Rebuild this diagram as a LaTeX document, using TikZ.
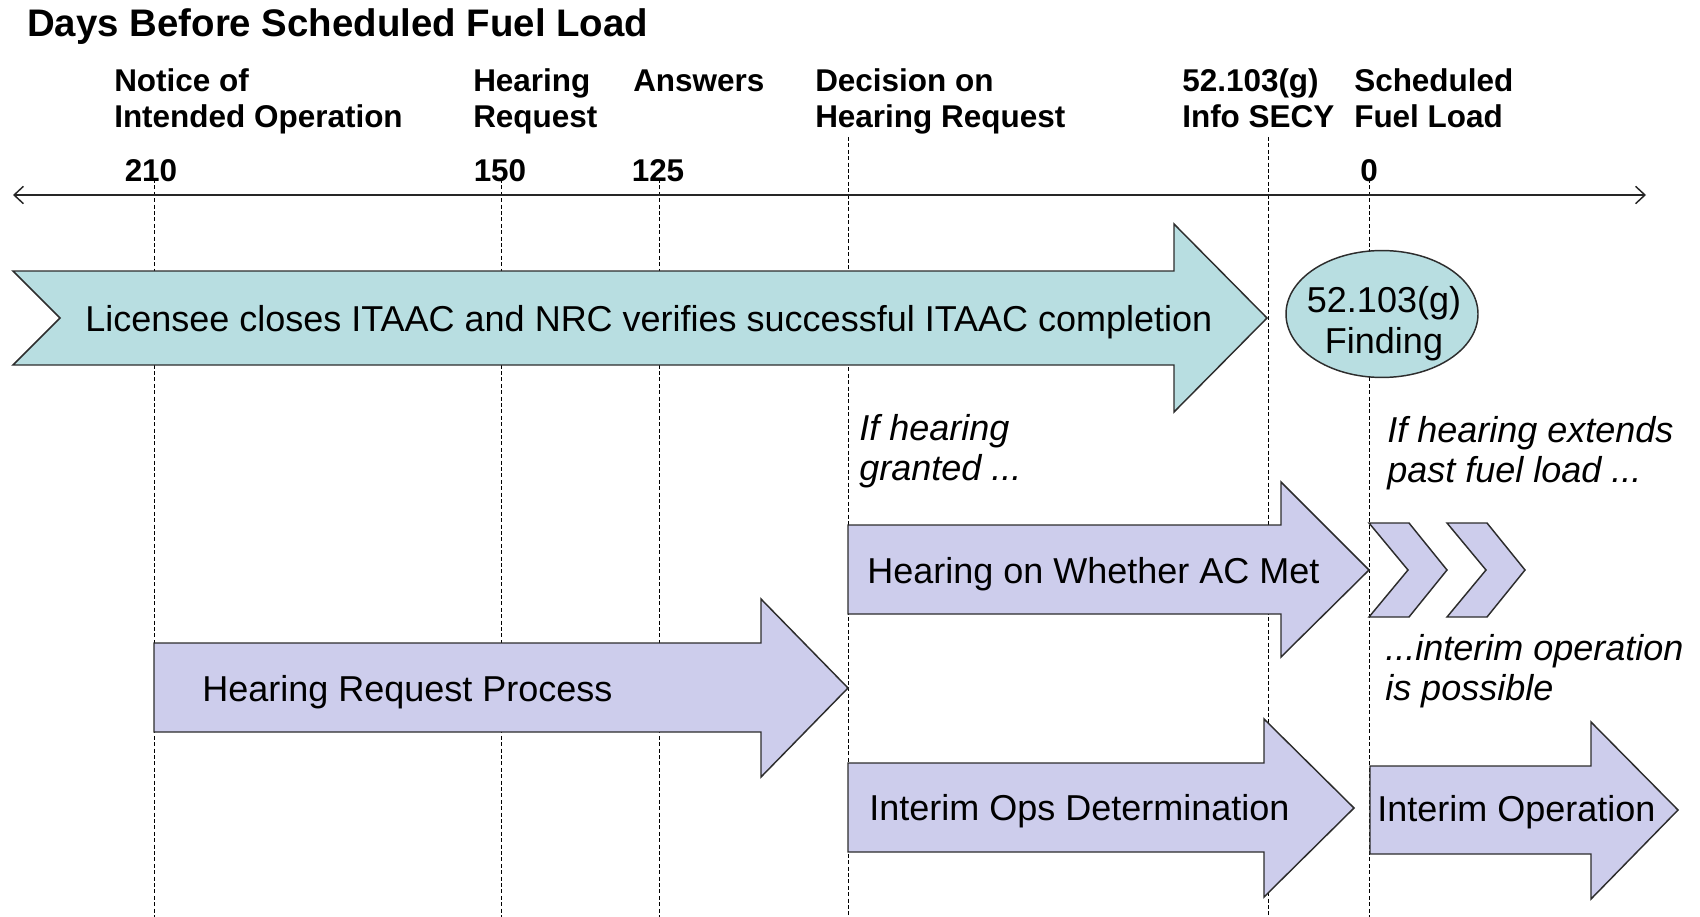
\documentclass[tikz,border=0pt]{standalone}
\usepackage{fontspec}
\setmainfont{Liberation Sans}
\usetikzlibrary{arrows.meta}
\definecolor{tealfill}{RGB}{184,222,225}
\definecolor{lilacfill}{RGB}{205,205,236}
\definecolor{edgegray}{RGB}{45,45,45}
\tikzset{
  guide/.style={draw=black, line width=0.7pt, dash pattern=on 3pt off 1.8pt},
  axisline/.style={draw=black!85, line width=1.1pt, {Straight Barb[length=7pt,width=13pt]}-{Straight Barb[length=7pt,width=13pt]}},
  tealshape/.style={fill=tealfill, draw=edgegray, line width=1.1pt},
  lilacshape/.style={fill=lilacfill, draw=edgegray, line width=1.1pt},
  titletext/.style={anchor=base west, inner sep=0pt, font=\fontsize{28.8}{33}\selectfont\bfseries},
  headlabel/.style={anchor=base west, inner sep=0pt, font=\fontsize{23.6}{27}\selectfont\bfseries},
  daynum/.style={anchor=base, inner sep=0pt, font=\fontsize{23.6}{27}\selectfont\bfseries},
  bartext/.style={anchor=base west, inner sep=0pt, font=\fontsize{27}{31}\selectfont},
  findingtext/.style={anchor=base, inner sep=0pt, font=\fontsize{27}{30.75}\selectfont},
  note/.style={anchor=base west, inner sep=0pt, font=\fontsize{27}{30.5}\selectfont\itshape},
}
\begin{document}
\begin{tikzpicture}[x=0.75pt, y=-0.75pt]
\useasboundingbox (0,0) rectangle (1700,917);

% dashed guide lines
\coordinate (g210t) at (154,179);  \coordinate (g210b) at (154,917);
\coordinate (g150t) at (501,179);  \coordinate (g150b) at (501,917);
\coordinate (g125t) at (659,179);  \coordinate (g125b) at (659,917);
\coordinate (gdect) at (848,137);  \coordinate (gdecb) at (848,917);
\coordinate (gsect) at (1268,137); \coordinate (gsecb) at (1268,917);
\coordinate (gzerot) at (1369,179); \coordinate (gzerob) at (1369,917);
\draw[guide] (g210t) -- (g210b);
\draw[guide] (g150t) -- (g150b);
\draw[guide] (g125t) -- (g125b);
\draw[guide] (gdect) -- (gdecb);
\draw[guide] (gsect) -- (gsecb);
\draw[guide] (gzerot) -- (gzerob);

% time axis
\coordinate (axL) at (13,195);
\coordinate (axR) at (1646,195);
\draw[axisline] (axL) -- (axR);

% title and header labels
\node[titletext] (title) at (27,37) {Days Before Scheduled Fuel Load};
\node[headlabel] (lnotice) at (114,92) {\begin{tabular}[t]{@{}l@{}}Notice of\\Intended Operation\end{tabular}};
\node[headlabel] (lhearing) at (473,92) {\begin{tabular}[t]{@{}l@{}}Hearing\\Request\end{tabular}};
\node[headlabel] (lanswers) at (633,92) {Answers};
\node[headlabel] (ldecision) at (815,92) {\begin{tabular}[t]{@{}l@{}}Decision on\\Hearing Request\end{tabular}};
\node[headlabel] (lsecy) at (1182,92) {\begin{tabular}[t]{@{}l@{}}52.103(g)\\Info SECY\end{tabular}};
\node[headlabel] (lfuel) at (1354,92) {\begin{tabular}[t]{@{}l@{}}Scheduled\\Fuel Load\end{tabular}};
\node[daynum] (n210) at (151,181) {210};
\node[daynum] (n150) at (500,181) {150};
\node[daynum] (n125) at (658,181) {125};
\node[daynum] (n0) at (1369,181) {0};

% ITAAC notched arrow
\draw[tealshape] (13,271) -- (1174,271) -- (1174,224) -- (1267,318) -- (1174,412) -- (1174,365) -- (13,365) -- (60,318) -- cycle;
\node[bartext] (itaac) at (85,331) {Licensee closes ITAAC and NRC verifies successful ITAAC completion};

% 52.103(g) finding ellipse
\draw[tealshape] (1382,314) ellipse [x radius=72pt, y radius=47.6pt];
\node[findingtext] (finding) at (1384,312) {\begin{tabular}[t]{@{}c@{}}52.103(g)\\Finding\end{tabular}};

% notes
\node[note] (granted) at (859,440) {\begin{tabular}[t]{@{}l@{}}If hearing\\granted ...\end{tabular}};
\node[note] (extends) at (1387,442) {\begin{tabular}[t]{@{}l@{}}If hearing extends\\past fuel load ...\end{tabular}};
\node[note] (possible) at (1385,660) {\begin{tabular}[t]{@{}l@{}}...interim operation\\is possible\end{tabular}};

% Hearing on whether AC met
\draw[lilacshape] (848,525) -- (1281,525) -- (1281,482) -- (1369,570) -- (1281,657) -- (1281,614) -- (848,614) -- cycle;
\node[bartext] (hearingac) at (867,583) {Hearing on Whether AC Met};

% chevrons
\draw[lilacshape] (1369,523) -- (1409,523) -- (1447,570) -- (1409,617) -- (1369,617) -- (1408,570) -- cycle;
\draw[lilacshape] (1447,523) -- (1487,523) -- (1525,570) -- (1487,617) -- (1447,617) -- (1486,570) -- cycle;

% Hearing request process
\draw[lilacshape] (154,643) -- (761,643) -- (761,599) -- (848,688) -- (761,777) -- (761,732) -- (154,732) -- cycle;
\node[bartext] (hrp) at (202,701) {Hearing Request Process};

% Interim ops determination
\draw[lilacshape] (848,763) -- (1264,763) -- (1264,719) -- (1354,808) -- (1264,897) -- (1264,852) -- (848,852) -- cycle;
\node[bartext] (iod) at (869,820) {Interim Ops Determination};

% Interim operation
\draw[lilacshape] (1370,766) -- (1591,766) -- (1591,722) -- (1678,810) -- (1591,899) -- (1591,854) -- (1370,854) -- cycle;
\node[bartext] (iop) at (1377,821) {Interim Operation};
\end{tikzpicture}
\end{document}
